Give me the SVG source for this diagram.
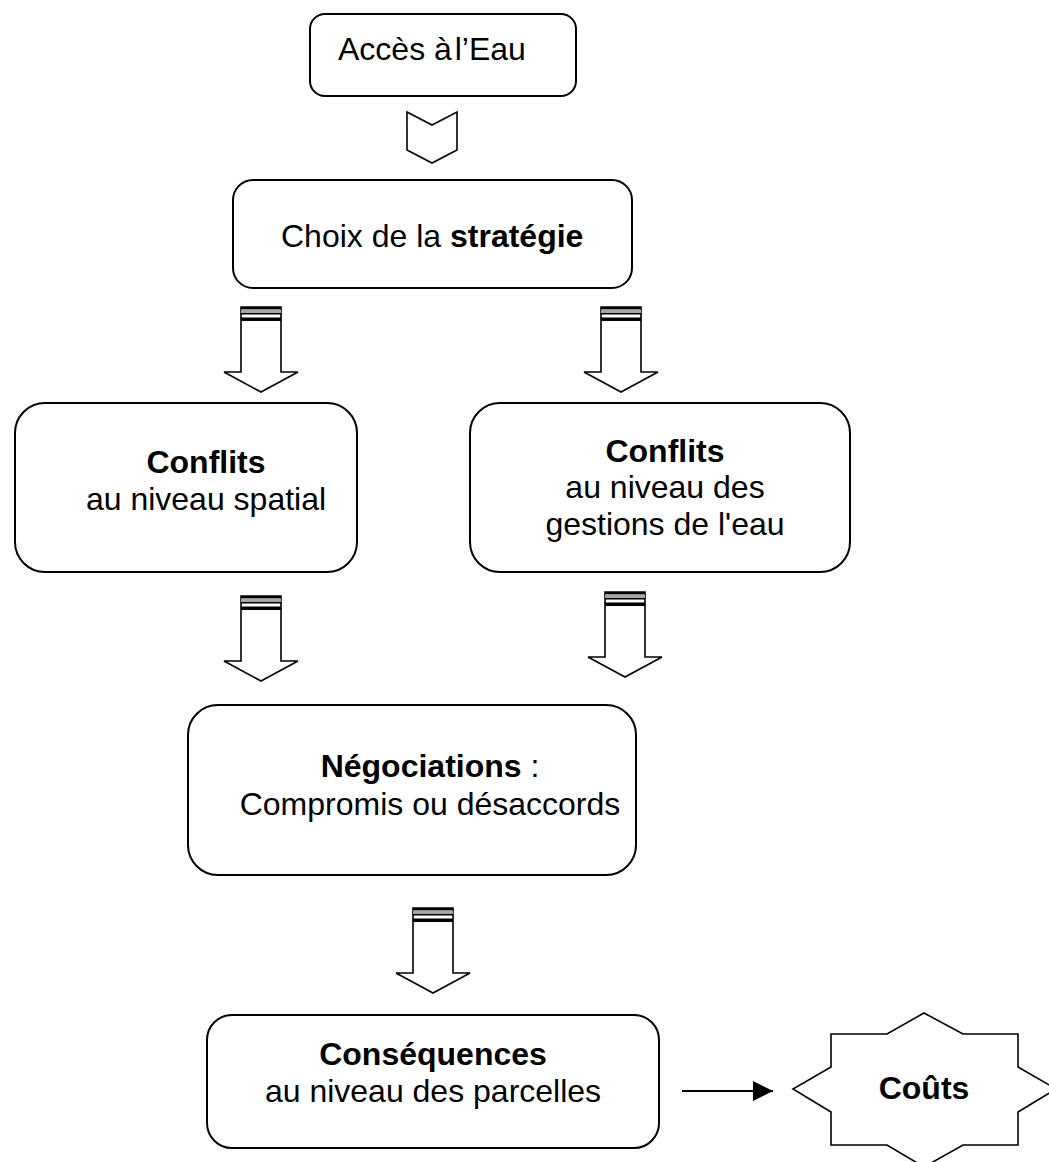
<svg xmlns="http://www.w3.org/2000/svg" width="1049" height="1162" viewBox="0 0 1049 1162">
  <style>
    .box { fill: #ffffff; stroke: #000000; stroke-width: 2; }
    .shape { fill: #ffffff; stroke: #000000; stroke-width: 1.6; stroke-linejoin: miter; }
    .txt { font-family: "Liberation Sans", Arial, sans-serif; font-size: 32px; fill: #000000; }
    .b { font-weight: bold; }
    .mid { text-anchor: middle; }
    .link { stroke: #000000; stroke-width: 2; fill: none; }
  </style>
  <defs>
    <!-- striped block arrow pointing down, shaft origin at top-left -->
    <g id="blockArrow">
      <polygon class="shape" points="0,0 40,0 40,65 57,65 20,85 -17,65 0,65"/>
      <rect x="0" y="0" width="40" height="2.5" fill="#000000"/>
      <rect x="0" y="2.5" width="40" height="3.5" fill="#a6a6a6"/>
      <rect x="0" y="6" width="40" height="1.5" fill="#000000"/>
      <rect x="0" y="10.5" width="40" height="3.5" fill="#000000"/>
    </g>
    <marker id="arrowHead" viewBox="0 0 20 20" refX="20" refY="10" markerWidth="20" markerHeight="20" markerUnits="userSpaceOnUse" orient="auto">
      <polygon points="0,0 20,10 0,20" fill="#000000"/>
    </marker>
  </defs>

  <rect width="1049" height="1162" fill="#ffffff"/>

  <!-- connectors -->
  <g id="connectors">
    <polygon class="shape" points="407,112 432,125 457,112 457,150 432,163 407,150"/>
    <use href="#blockArrow" transform="translate(241,307)"/>
    <use href="#blockArrow" transform="translate(601,307)"/>
    <use href="#blockArrow" transform="translate(241,596)"/>
    <use href="#blockArrow" transform="translate(605,592)"/>
    <use href="#blockArrow" transform="translate(413,908)"/>
    <line class="link" x1="682" y1="1091" x2="773" y2="1091" marker-end="url(#arrowHead)"/>
  </g>

  <g id="acces">
    <rect class="box" x="310" y="14" width="266" height="82" rx="15" ry="15"/>
    <text class="txt" x="338" y="60">Accès à <tspan dx="-6">l’Eau</tspan></text>
  </g>

  <g id="strategie">
    <rect class="box" x="233" y="180" width="399" height="108" rx="20" ry="20"/>
    <text class="txt" x="281" y="247">Choix de la <tspan class="b">stratégie</tspan></text>
  </g>

  <g id="conflits-spatial">
    <rect class="box" x="15" y="403" width="342" height="169" rx="30" ry="30"/>
    <text class="txt b mid" x="206" y="473">Conflits</text>
    <text class="txt mid" x="206" y="510">au niveau spatial</text>
  </g>

  <g id="conflits-gestion">
    <rect class="box" x="470" y="403" width="380" height="169" rx="30" ry="30"/>
    <text class="txt b mid" x="665" y="462">Conflits</text>
    <text class="txt mid" x="665" y="498">au niveau des</text>
    <text class="txt mid" x="665" y="535">gestions de l'eau</text>
  </g>

  <g id="negociations">
    <rect class="box" x="188" y="705" width="448" height="170" rx="30" ry="30"/>
    <text class="txt mid" x="430" y="777"><tspan class="b">Négociations</tspan> :</text>
    <text class="txt mid" x="430" y="815">Compromis ou désaccords</text>
  </g>

  <g id="consequences">
    <rect class="box" x="207" y="1015" width="452" height="133" rx="25" ry="25"/>
    <text class="txt b mid" x="433" y="1065">Conséquences</text>
    <text class="txt mid" x="433" y="1102">au niveau des parcelles</text>
  </g>

  <g id="couts">
    <polygon class="shape" points="924,1013 963,1034 1018,1034 1018,1067 1056,1089 1018,1112 1018,1145 963,1145 924,1167 887,1145 831,1145 831,1112 793,1089 831,1067 831,1034 887,1034"/>
    <text class="txt b mid" x="924" y="1099">Coûts</text>
  </g>
</svg>
